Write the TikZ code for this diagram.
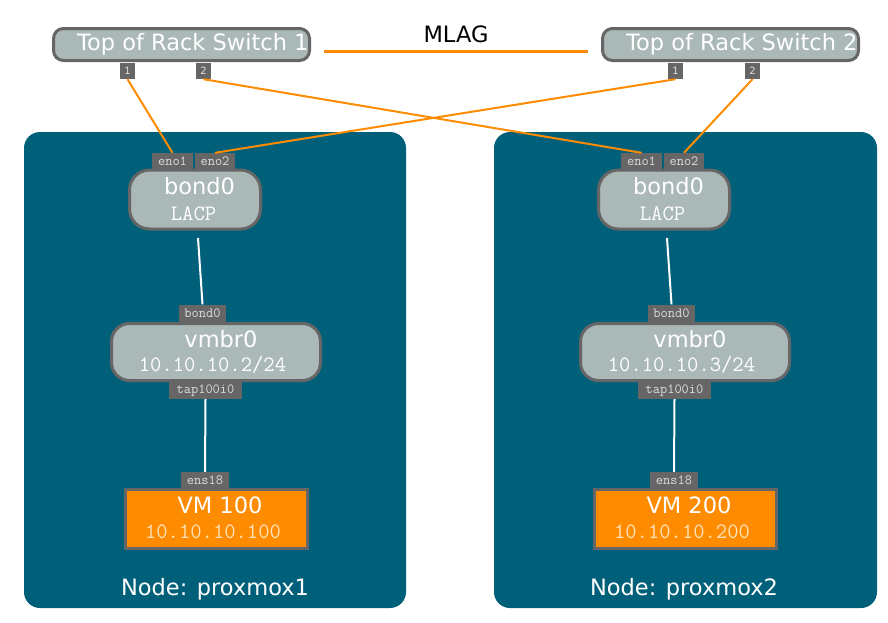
\documentclass[tikz,border=0pt]{standalone}
\usepackage{fontspec}
\setmainfont{DejaVu Sans}
\definecolor{hostblue}{HTML}{00607A}
\definecolor{boxgray}{HTML}{AAB8B7}
\definecolor{bordergray}{HTML}{666666}
\definecolor{linkorange}{HTML}{FF8C00}
\definecolor{porttext}{HTML}{DDDDDD}
\definecolor{vmiptext}{HTML}{FFE2B8}
\begin{document}
\begin{tikzpicture}[x=1pt,y=-1pt,
  hostbg/.style={fill=hostblue, draw=none, rounded corners=16pt, inner sep=0pt},
  graybox/.style={draw=bordergray, line width=3pt, fill=boxgray, rounded corners=#1, inner sep=0pt},
  vmbox/.style={draw=bordergray, line width=3pt, fill=linkorange, inner sep=0pt},
  bigtext/.style={text=white, font=\fontsize{22.5}{24}\selectfont, inner sep=0pt},
  subtext/.style={text=white, font=\ttfamily\fontsize{22}{22}\selectfont, inner sep=0pt},
  swport/.style={fill=bordergray, text=porttext, inner sep=0pt, minimum width=15pt, minimum height=16pt, font=\fontsize{10}{10}\selectfont},
  ifport/.style={fill=bordergray, text=porttext, inner sep=0pt, minimum height=17pt, font=\ttfamily\fontsize{14}{14}\selectfont},
  link/.style={draw=linkorange, line width=2pt},
  mlagline/.style={draw=linkorange, line width=3pt},
  wire/.style={draw=white, line width=2pt}
]
\useasboundingbox (0,0) rectangle (888,622);

% host backgrounds
\node[hostbg, minimum width=382pt, minimum height=476pt] (h1) at (215,370) {};
\node[hostbg, minimum width=383pt, minimum height=476pt] (h2) at (685.5,370) {};

% switches
\node[graybox=10pt, minimum width=256pt, minimum height=32pt] (s1) at (181.5,44.5) {};
\node[bigtext, anchor=base west] (s1t) at (77,50) {Top of Rack Switch 1};
\node[graybox=10pt, minimum width=256pt, minimum height=32pt] (s2) at (730.5,44.5) {};
\node[bigtext, anchor=base west] (s2t) at (626,50) {Top of Rack Switch 2};

\node[swport] (s1p1) at (127.5,71) {1};
\node[swport] (s1p2) at (203.5,71) {2};
\node[swport] (s2p1) at (675.5,71) {1};
\node[swport] (s2p2) at (752.5,71) {2};

% MLAG
\draw[mlagline, shorten <=13pt, shorten >=13pt] ([yshift=-6.5pt]s1.east) -- ([yshift=-6.5pt]s2.west);
\node[bigtext, text=black, anchor=base] (mlag) at (456,42) {MLAG};

% host 1
\node[ifport, minimum width=41pt] (h1eno1) at (172.5,161.5) {eno1};
\node[ifport, minimum width=40pt] (h1eno2) at (215,161.5) {eno2};
\node[graybox=20pt, minimum width=131pt, minimum height=59pt] (h1bond) at (195,199.5) {};
\node[bigtext] (h1bondt) at (199.5,186) {bond0};
\node[subtext] (h1lacp) at (193.5,214) {LACP};
\coordinate (h1bout) at (198,238);
\node[ifport, minimum width=47pt] (h1bl) at (202.5,313) {bond0};
\node[graybox=18pt, minimum width=209pt, minimum height=57pt] (h1vmbr) at (216,352) {};
\node[bigtext] (h1vmbrt) at (221,339) {vmbr0};
\node[subtext] (h1ip) at (212.5,365) {10.10.10.2/24};
\node[ifport, minimum width=73pt] (h1tap) at (205.5,390.5) {tap100i0};
\node[ifport, minimum width=48pt, minimum height=16pt] (h1ens) at (205,480) {ens18};
\node[vmbox, minimum width=182pt, minimum height=59pt] (h1vm) at (216.5,519) {};
\node[bigtext] (h1vmt) at (220,505) {VM 100};
\node[subtext, text=vmiptext] (h1vmip) at (213,532) {10.10.10.100};
\node[bigtext, anchor=base] (h1name) at (215,595) {Node: proxmox1};

% host 2
\node[ifport, minimum width=41pt] (h2eno1) at (641.5,161.5) {eno1};
\node[ifport, minimum width=40pt] (h2eno2) at (684,161.5) {eno2};
\node[graybox=20pt, minimum width=131pt, minimum height=59pt] (h2bond) at (664,199.5) {};
\node[bigtext] (h2bondt) at (668.5,186) {bond0};
\node[subtext] (h2lacp) at (662.5,214) {LACP};
\coordinate (h2bout) at (667,238);
\node[ifport, minimum width=47pt] (h2bl) at (671.5,313) {bond0};
\node[graybox=18pt, minimum width=209pt, minimum height=57pt] (h2vmbr) at (685,352) {};
\node[bigtext] (h2vmbrt) at (690,339) {vmbr0};
\node[subtext] (h2ip) at (681.5,365) {10.10.10.3/24};
\node[ifport, minimum width=73pt] (h2tap) at (674.5,390.5) {tap100i0};
\node[ifport, minimum width=48pt, minimum height=16pt] (h2ens) at (674,480) {ens18};
\node[vmbox, minimum width=182pt, minimum height=59pt] (h2vm) at (685.5,519) {};
\node[bigtext] (h2vmt) at (689,505) {VM 200};
\node[subtext, text=vmiptext] (h2vmip) at (682,532) {10.10.10.200};
\node[bigtext, anchor=base] (h2name) at (684,595) {Node: proxmox2};

% uplinks
\draw[link] (s1p1.south) -- (h1eno1.north);
\draw[link] (s1p2.south) -- (h2eno1.north);
\draw[link] (s2p1.south) -- (h1eno2.north);
\draw[link] (s2p2.south) -- (h2eno2.north);

% internal wires
\draw[wire] (h1bout) -- (h1bl.north);
\draw[wire] (h1tap.south) -- (h1ens.north);
\draw[wire] (h2bout) -- (h2bl.north);
\draw[wire] (h2tap.south) -- (h2ens.north);
\end{tikzpicture}
\end{document}
